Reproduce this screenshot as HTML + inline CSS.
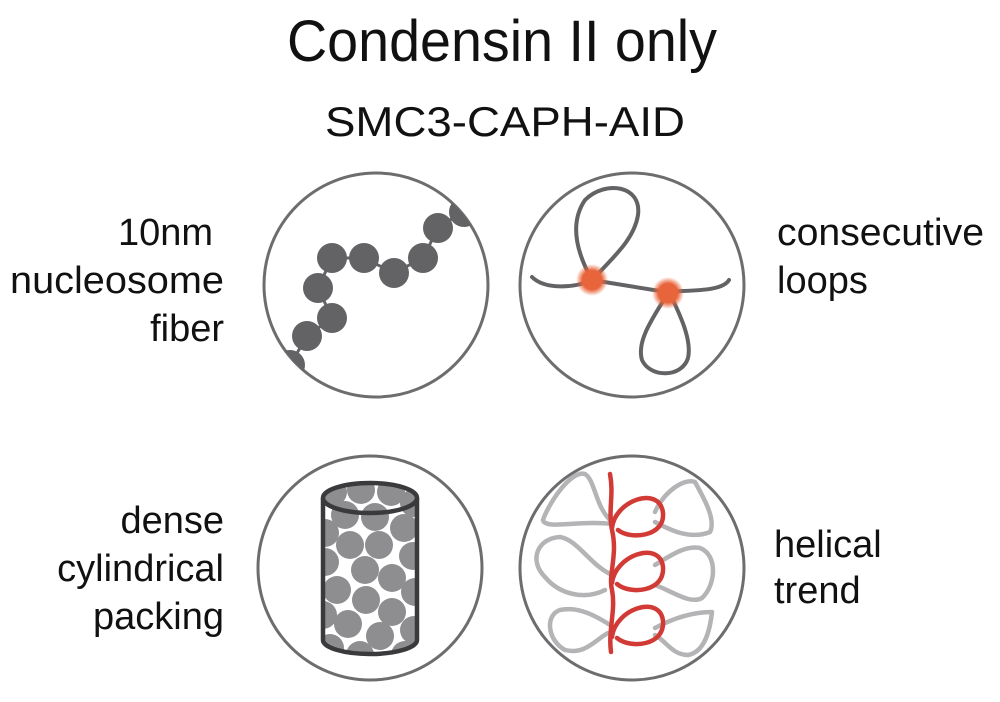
<!DOCTYPE html>
<html><head><meta charset="utf-8"><style>
html,body{margin:0;padding:0;background:#fff;}
svg{display:block;}
text{font-family:"Liberation Sans",Arial,sans-serif;fill:#111;}
</style></head><body>
<svg width="1000" height="702" viewBox="0 0 1000 702" xmlns="http://www.w3.org/2000/svg">
<defs>
<clipPath id="c1"><circle cx="376" cy="285" r="112"/></clipPath>
<radialGradient id="og"><stop offset="0.6" stop-color="#e8643a"/><stop offset="1" stop-color="#e8643a" stop-opacity="0"/></radialGradient>
<clipPath id="cyl"><path d="M323 498 L323 640 A47 14 0 0 0 417 640 L417 498 A47 15 0 0 0 323 498Z"/></clipPath>
</defs>
<text x="502" y="61" font-size="58" text-anchor="middle" textLength="430" lengthAdjust="spacingAndGlyphs">Condensin II only</text>
<text x="505" y="136" font-size="42" text-anchor="middle" textLength="360" lengthAdjust="spacingAndGlyphs">SMC3-CAPH-AID</text>

<g font-size="38" text-anchor="end">
<text x="213" y="245">10nm</text>
<text x="224" y="293" textLength="214" lengthAdjust="spacingAndGlyphs">nucleosome</text>
<text x="224" y="341">fiber</text>
<text x="224" y="533">dense</text>
<text x="224" y="581">cylindrical</text>
<text x="224" y="629">packing</text>
</g>
<g font-size="38">
<text x="777" y="245" textLength="207" lengthAdjust="spacingAndGlyphs">consecutive</text>
<text x="777" y="293">loops</text>
<text x="774" y="557">helical</text>
<text x="774" y="603">trend</text>
</g>

<g fill="none" stroke="#6d6d70" stroke-width="3">
<circle cx="376" cy="285" r="112"/>
<circle cx="632" cy="285" r="112"/>
<circle cx="370" cy="568" r="112"/>
<circle cx="632" cy="568" r="112"/>
</g>

<g clip-path="url(#c1)" fill="#636366">
<polyline points="285,375 293,360 307,336 332,318 318,288 332,258 364,258 394,273 423,258 438,228 462,212 480,200" fill="none" stroke="#636366" stroke-width="3"/>
<circle cx="290" cy="365" r="15"/><circle cx="307" cy="336" r="15"/><circle cx="332" cy="318" r="15"/><circle cx="318" cy="288" r="15"/><circle cx="332" cy="258" r="15"/><circle cx="364" cy="258" r="15"/><circle cx="394" cy="273" r="15"/><circle cx="423" cy="258" r="15"/><circle cx="438" cy="228" r="15"/><circle cx="464" cy="212" r="15"/>
</g>

<g fill="none" stroke="#636366" stroke-width="4" stroke-linecap="round">
<path d="M532 277 C545 290 575 288 592 280 L666 292 C690 290 722 292 729 280"/>
<path d="M592 280 C578 255 568 225 585 200 C605 180 642 185 638 215 C634 240 612 258 598 274"/>
<path d="M668 293 C655 315 636 340 642 360 C650 378 682 378 688 358 C692 340 680 315 672 298"/>
</g>
<circle cx="592" cy="280" r="16" fill="url(#og)"/>
<circle cx="668" cy="293" r="16" fill="url(#og)"/>

<g clip-path="url(#cyl)" fill="#8e8e91">
<rect x="320" y="480" width="100" height="180" fill="#fff"/>
<circle cx="333" cy="492" r="14"/><circle cx="361" cy="490" r="14"/><circle cx="391" cy="492" r="14"/><circle cx="414" cy="503" r="14"/>
<circle cx="345" cy="515" r="14"/><circle cx="375" cy="517" r="14"/><circle cx="404" cy="528" r="14"/>
<circle cx="325" cy="533" r="14"/><circle cx="350" cy="545" r="14"/><circle cx="379" cy="545" r="14"/>
<circle cx="413" cy="556" r="14"/><circle cx="325" cy="562" r="14"/><circle cx="365" cy="570" r="14"/><circle cx="392" cy="578" r="14"/>
<circle cx="337" cy="590" r="14"/><circle cx="415" cy="592" r="14"/><circle cx="366" cy="600" r="14"/>
<circle cx="323" cy="615" r="14"/><circle cx="392" cy="612" r="14"/><circle cx="348" cy="624" r="14"/>
<circle cx="380" cy="636" r="14"/><circle cx="414" cy="630" r="14"/><circle cx="330" cy="648" r="14"/><circle cx="405" cy="655" r="14"/><circle cx="360" cy="655" r="14"/>
</g>
<g fill="none" stroke="#3a3a3c" stroke-width="4.5">
<path d="M323 498 L323 640 A47 14 0 0 0 417 640 L417 498"/>
<ellipse cx="370" cy="498" rx="47" ry="15"/>
</g>

<g fill="none" stroke="#b4b4b6" stroke-width="4.5" stroke-linejoin="round" stroke-linecap="round">
<path d="M610 520 C595 505 595 480 585 474 C570 470 548 505 543 520 C545 530 580 520 612 524"/>
<path d="M655 512 C665 490 685 478 695 482 C705 500 716 520 710 532 C690 540 670 530 655 522"/>
<path d="M612 575 C590 565 578 540 560 537 C538 538 528 560 545 577 C560 595 585 600 605 590"/>
<path d="M655 565 C670 556 685 545 700 548 C718 555 716 585 702 598 C690 605 670 590 655 585"/>
<path d="M610 625 C590 612 575 607 560 610 C545 615 547 640 565 650 C585 655 595 640 608 633"/>
<path d="M655 628 C670 620 690 612 712 612 C710 630 705 652 688 655 C672 655 665 640 655 635"/>
</g>
<g fill="none" stroke="#d23a35" stroke-width="4.5" stroke-linecap="round">
<path d="M610 474 C614 495 608 510 612 530 C618 555 608 575 612 590 C616 610 608 630 611 652"/>
<path d="M612 528 C615 500 660 485 663 513 C665 537 630 540 618 530"/>
<path d="M612 583 C615 555 660 540 663 567 C665 592 630 595 617 584"/>
<path d="M612 637 C615 609 660 594 663 621 C665 646 630 649 617 638"/>
</g>
</svg>
</body></html>
